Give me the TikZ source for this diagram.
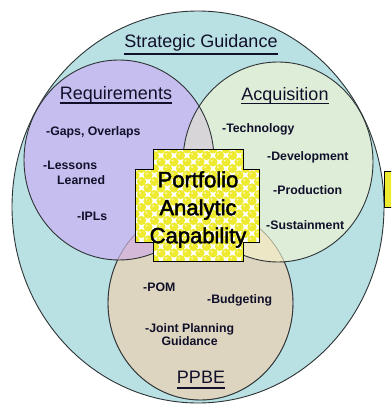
\documentclass[tikz,border=0pt]{standalone}
\usepackage{fontspec}
\setmainfont{Liberation Sans}
\newfontfamily\pacfont{Liberation Sans}[FakeBold=2]
\definecolor{tealbg}{HTML}{B9E0E2}
\definecolor{reqcol}{HTML}{C6BEEE}
\definecolor{acqcol}{HTML}{DEEDD8}
\definecolor{ppbecol}{HTML}{DDD5BF}
\definecolor{raovl}{HTML}{D8D5D9}
\definecolor{rpovl}{HTML}{D5B9D8}
\definecolor{apovl}{HTML}{EDE7C6}
\definecolor{ballyel}{HTML}{EEEA30}
\definecolor{edgecol}{HTML}{2E3336}
\definecolor{txtcol}{HTML}{10102A}
\begin{document}
\begin{tikzpicture}[x=1pt,y=-1pt,
  ringline/.style={draw=edgecol,line width=0.9pt},
  titletext/.style={font=\fontsize{18}{20}\selectfont,text=txtcol,inner sep=0pt,anchor=base},
  itemtext/.style={font=\bfseries\fontsize{12.3}{13}\selectfont,text=txtcol,inner sep=0pt,anchor=base west},
  ulline/.style={draw=txtcol,line width=1.1pt}]
\useasboundingbox (0,0) rectangle (391,404);
\clip (0,0) rectangle (391,404);
\fill[white] (0,0) rectangle (391,404);
% partial box at right edge
\filldraw[fill=ballyel,draw=black,line width=0.8pt] (384,171) rectangle (400,207);
% outer ring
\fill[tealbg,ringline] (198,207) ellipse [x radius=186, y radius=196];
% PPBE
\fill[ppbecol,ringline] (200.5,303) ellipse [x radius=92.5, y radius=97];
% Requirements and Acquisition
\fill[reqcol] (119,160) ellipse [x radius=95, y radius=100];
\fill[acqcol] (278,162) ellipse [x radius=95, y radius=100];
\begin{scope}
  \clip (119,160) ellipse [x radius=95, y radius=100];
  \fill[rpovl] (200.5,303) ellipse [x radius=92.5, y radius=97];
  \fill[raovl] (278,162) ellipse [x radius=95, y radius=100];
\end{scope}
\begin{scope}
  \clip (278,162) ellipse [x radius=95, y radius=100];
  \fill[apovl] (200.5,303) ellipse [x radius=92.5, y radius=97];
\end{scope}
\draw[draw=edgecol,line width=0.8pt,draw opacity=0.35] (200.5,303) ellipse [x radius=92.5, y radius=97];
\draw[ringline] (119,160) ellipse [x radius=95, y radius=100];
\draw[ringline] (278,162) ellipse [x radius=95, y radius=100];
% central cross-shaped box
\def\crosspath{(153,149) -- (243,149) -- (243,169) -- (259,169) -- (259,242) -- (243,242) -- (243,261) -- (153,261) -- (153,242) -- (135,242) -- (135,169) -- (153,169) -- cycle}
\begin{scope}
  \clip \crosspath;
  \fill[white] (135,149) rectangle (259,261);
  \foreach \i in {0,...,20} {
    \foreach \j in {0,...,18} {
      \ifodd\numexpr\i+\j\relax\else
        \fill[ballyel] ({135+\i*6.5},{149+\j*6.5}) circle (4.6);
        \fill[white,opacity=0.6] ({133.6+\i*6.5},{147.6+\j*6.5}) circle (1.2);
      \fi
    }
  }
\end{scope}
\draw[black,line width=0.9pt] \crosspath;
% titles
\node[titletext] (sg) at (201,48) {Strategic Guidance};
\node[titletext] (req) at (116,99) {Requirements};
\node[titletext] (acq) at (285,100.5) {Acquisition};
\node[titletext] (ppbe) at (201,383) {PPBE};
\draw[ulline] ([yshift=-6pt]sg.base west) -- ([yshift=-6pt]sg.base east);
\draw[ulline] ([yshift=-4pt]req.base west) -- ([yshift=-4pt]req.base east);
\draw[ulline] ([yshift=-3pt]acq.base west) -- ([yshift=-3pt]acq.base east);
\draw[ulline] ([yshift=-5pt]ppbe.base west) -- ([yshift=-5pt]ppbe.base east);
% items
\node[itemtext] (gaps) at (46,135.5) {-Gaps, Overlaps};
\node[itemtext,align=left] (lessons) at (43,184.5) {-Lessons\\[2pt]\hspace*{14pt}Learned};
\node[itemtext] (ipls) at (77,220.5) {-IPLs};
\node[itemtext] (tech) at (222,132.5) {-Technology};
\node[itemtext] (dev) at (267,160.5) {-Development};
\node[itemtext] (prod) at (273,194.5) {-Production};
\node[itemtext] (sust) at (266,229.5) {-Sustainment};
\node[itemtext] (pom) at (143,291.5) {-POM};
\node[itemtext] (budg) at (207,303.5) {-Budgeting};
\node[itemtext,align=center] (joint) at (145,345.5) {-Joint Planning\\[0pt]Guidance};
% centre text
\node[font=\pacfont\fontsize{22}{28}\selectfont,text=black,align=center,inner sep=0pt] (pac) at (198,209.5) {Portfolio\\Analytic\\Capability};
\end{tikzpicture}
\end{document}
